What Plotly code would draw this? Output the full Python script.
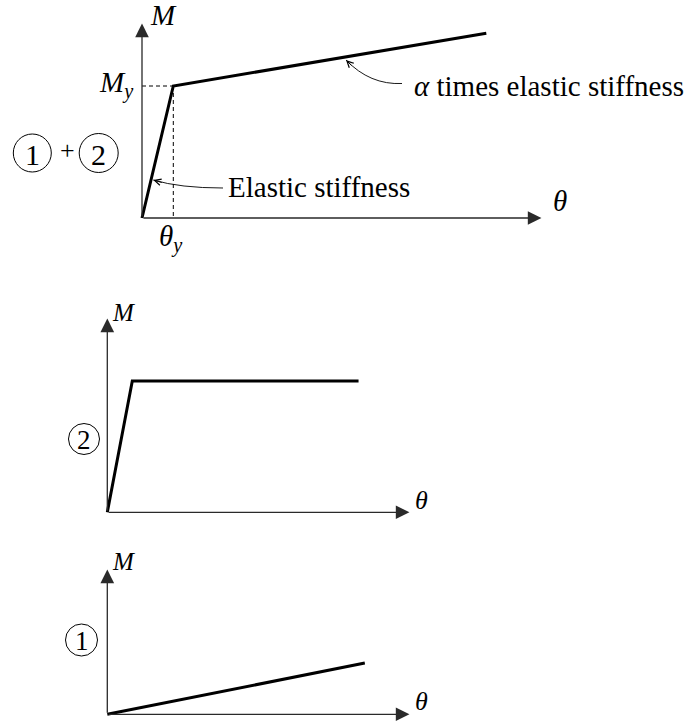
import plotly.graph_objects as go

W, H = 688, 726

# ---- data (theta in units of theta_y, M in units of M_y) ----
theta_total = [0, 1, 11.0]      # (1)+(2): elastic then alpha * elastic stiffness
M_total = [0, 1, 1.40]
theta_c2 = [0, 1, 10.05]        # (2): elastic-perfectly plastic
M_c2 = [0, 1, 1.0]
theta_c1 = [0, 10.3]            # (1): linear, low stiffness
M_c1 = [0, 0.39]
theta_yield = 1.0
M_yield = 1.0

FONT = "Liberation Serif"

# ---- panel geometry in pixels ----
panels = [
    dict(name="top", ox=142, oy=218, sx=31.3, sy=132.0, L=128, R=575, T=5, B=232, xtip=545, ytip=20),
    dict(name="mid", ox=107.3, oy=512.3, sx=25.0, sy=131.3, L=95, R=430, T=300, B=525, xtip=413, ytip=315),
    dict(name="bot", ox=107.3, oy=714.3, sx=25.0, sy=131.3, L=95, R=430, T=550, B=724, xtip=413, ytip=566),
]


def px(x):
    return x / W


def py(y):
    return 1 - y / H


fig = go.Figure()
annotations = []
shapes = []

HEAD_W = 1.3
HEAD_SIZE = 2.1
HEAD_LEN = 1.3 * HEAD_W * HEAD_SIZE  # tip overshoot of plotly arrowhead 2

for i, p in enumerate(panels):
    sfx = "" if i == 0 else str(i + 1)
    xa, ya = "x" + sfx, "y" + sfx
    fig.layout["xaxis" + sfx] = dict(
        domain=[px(p["L"]), px(p["R"])],
        range=[(p["L"] - p["ox"]) / p["sx"], (p["R"] - p["ox"]) / p["sx"]],
        visible=False, anchor=ya, fixedrange=True,
    )
    fig.layout["yaxis" + sfx] = dict(
        domain=[py(p["B"]), py(p["T"])],
        range=[(p["oy"] - p["B"]) / p["sy"], (p["oy"] - p["T"]) / p["sy"]],
        visible=False, anchor=xa, fixedrange=True,
    )
    p["xa"], p["ya"] = xa, ya
    # axis arrows
    xt = (p["xtip"] - HEAD_LEN - p["ox"]) / p["sx"]
    yt = (p["oy"] - p["ytip"] - HEAD_LEN) / p["sy"]
    for (hx, hy) in [(xt, 0), (0, yt)]:
        annotations.append(dict(
            x=hx, y=hy, ax=0, ay=0, xref=xa, yref=ya, axref=xa, ayref=ya,
            text="", showarrow=True, arrowhead=2, arrowwidth=HEAD_W,
            arrowsize=HEAD_SIZE, arrowcolor="#2a2a2a",
        ))

top, mid, bot = panels

# dashed yield guides
fig.add_trace(go.Scatter(x=[0, theta_yield], y=[M_yield, M_yield], mode="lines",
                         xaxis=top["xa"], yaxis=top["ya"],
                         line=dict(color="black", width=1, dash="4px,3px"), hoverinfo="skip"))
fig.add_trace(go.Scatter(x=[theta_yield, theta_yield], y=[M_yield, 0], mode="lines",
                         xaxis=top["xa"], yaxis=top["ya"],
                         line=dict(color="black", width=1, dash="4px,3px"), hoverinfo="skip"))

# main curves
for (xs, ys, p) in [(theta_total, M_total, top), (theta_c2, M_c2, mid), (theta_c1, M_c1, bot)]:
    fig.add_trace(go.Scatter(x=xs, y=ys, mode="lines", xaxis=p["xa"], yaxis=p["ya"],
                             line=dict(color="black", width=3), hoverinfo="skip"))


def d(p, X, Y):
    return ((X - p["ox"]) / p["sx"], (p["oy"] - Y) / p["sy"])


# leader curves (quadratic beziers, top panel data coords)
leaders = [
    # tail, control, tip (pixel estimates), chevron tail offset
    ((223, 188), (180, 188), (153.3, 180), (10, 3)),
    ((402, 83.5), (370, 85), (346, 60), (7, 7)),
]
for tail, ctrl, tip, off in leaders:
    t = d(top, *tail)
    c = d(top, *ctrl)
    h = d(top, *tip)
    shapes.append(dict(
        type="path", xref=top["xa"], yref=top["ya"],
        path=f"M {t[0]},{t[1]} Q {c[0]},{c[1]} {h[0]},{h[1]}",
        line=dict(color="black", width=0.9),
    ))
    annotations.append(dict(
        x=h[0], y=h[1], xref=top["xa"], yref=top["ya"], ax=off[0], ay=off[1],
        text="", showarrow=True, arrowhead=5, arrowwidth=0.9, arrowsize=1.4,
        arrowcolor="black",
    ))


def label(text, X, Y, size, xanchor="center"):
    annotations.append(dict(
        x=px(X), y=py(Y), xref="paper", yref="paper", text=text, showarrow=False,
        xanchor=xanchor, yanchor="middle", font=dict(family=FONT, size=size, color="black"),
    ))


# text labels
label("<i>M</i>", 163, 15, 29)
label("<i>θ</i>", 560, 201, 29)
label("<i>M<sub>y</sub></i>", 136, 84, 29, "right")
label("<i>θ<sub>y</sub></i>", 171, 238, 29)
label("Elastic stiffness", 226, 187, 29, "left")
label("<i>α</i> times elastic stiffness", 412, 86, 29, "left")
label("+", 67, 151, 26)

label("<i>M</i>", 123, 312, 25)
label("<i>θ</i>", 421, 500, 26)
label("<i>M</i>", 123, 561, 25)
label("<i>θ</i>", 421, 701, 26)

# circled numbers
circles = [("1", 32.3, 153, 19, 30), ("2", 98.7, 153, 19.5, 30),
           ("2", 84, 439, 15.5, 27), ("1", 81.5, 640, 16, 27)]
for txt, cx, cy, r, fs in circles:
    shapes.append(dict(type="circle", xref="paper", yref="paper",
                       x0=px(cx - r), x1=px(cx + r), y0=py(cy + r), y1=py(cy - r),
                       line=dict(color="black", width=1)))
    label(txt, cx, cy + 1, fs)

fig.update_layout(
    width=W, height=H, margin=dict(l=0, r=0, t=0, b=0),
    paper_bgcolor="white", plot_bgcolor="white",
    showlegend=False, annotations=annotations, shapes=shapes,
    font=dict(family=FONT, color="black"),
)

fig.write_html(
    "out.html", config={"displayModeBar": False},
    post_script="document.body.style.margin='0';document.body.style.overflow='hidden';",
)
